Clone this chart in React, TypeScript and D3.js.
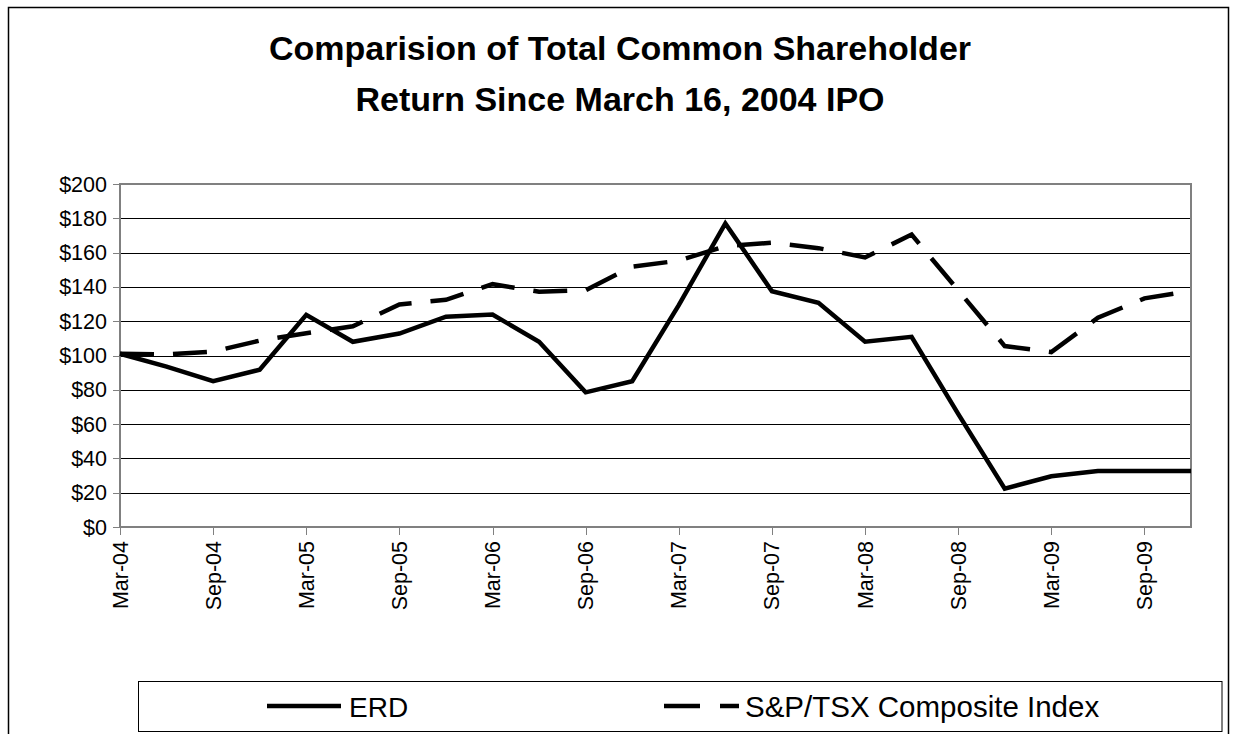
import React from "react";
import * as d3 from "d3";

const quarters = [
  "Mar-04", "Jun-04", "Sep-04", "Dec-04",
  "Mar-05", "Jun-05", "Sep-05", "Dec-05",
  "Mar-06", "Jun-06", "Sep-06", "Dec-06",
  "Mar-07", "Jun-07", "Sep-07", "Dec-07",
  "Mar-08", "Jun-08", "Sep-08", "Dec-08",
  "Mar-09", "Jun-09", "Sep-09", "Dec-09",
];

const erdValues = [
  101, 93.5, 85, 91.7,
  123.7, 108, 112.8, 122.6,
  123.9, 108, 78.5, 85,
  129.4, 177, 137.5, 130.7,
  108, 110.9, 66, 22.4,
  29.6, 32.7, 32.7, 32.7,
];

const tsxValues = [
  101, 100.6, 102.3, 108.7,
  113, 117, 129.8, 132.5,
  141.6, 137.2, 138.1, 151.8,
  155.3, 163.8, 165.8, 162.6,
  157.2, 170.5, 138, 105.5,
  102, 122, 133.3, 137.7,
];

const yTicks = [0, 20, 40, 60, 80, 100, 120, 140, 160, 180, 200];

const titleLines = [
  "Comparision of Total Common Shareholder",
  "Return Since March 16, 2004 IPO",
];

const seriesNames = ["ERD", "S&P/TSX Composite Index"];

const FONT = "'Liberation Sans', Arial, Helvetica, sans-serif";

export default function App() {
  const W = 1235;
  const H = 734;
  const plot = { left: 120, right: 1191, top: 184, bottom: 527 };

  const x = d3
    .scaleLinear()
    .domain([0, quarters.length - 1])
    .range([plot.left, plot.right]);
  const y = d3.scaleLinear().domain([0, 200]).range([plot.bottom, plot.top]);

  const line = d3
    .line<number>()
    .x((_, i) => x(i))
    .y((d) => y(d));

  const dash = "34 19";
  const lw = 4.5;

  return (
    <svg
      width={W}
      height={H}
      style={{ position: "absolute", left: 0, top: 0, background: "#fff" }}
      fontFamily={FONT}
    >
      <rect x={0} y={0} width={W} height={H} fill="#fff" />
      {/* outer chart border */}
      <rect
        x={8.5}
        y={7.5}
        width={1220}
        height={760}
        fill="none"
        stroke="#000"
        strokeWidth={1.5}
      />
      {/* title */}
      {titleLines.map((t, i) => (
        <text
          key={t}
          x={620}
          y={60 + i * 51}
          textAnchor="middle"
          fontWeight="bold"
          fontSize={34}
          fill="#000"
        >
          {t}
        </text>
      ))}
      {/* gridlines */}
      {yTicks.map((v) => (
        <line
          key={"g" + v}
          x1={plot.left}
          x2={plot.right}
          y1={Math.round(y(v)) + 0.5}
          y2={Math.round(y(v)) + 0.5}
          stroke="#000"
          strokeWidth={1}
        />
      ))}
      {/* plot border */}
      <rect
        x={plot.left}
        y={plot.top}
        width={plot.right - plot.left}
        height={plot.bottom - plot.top}
        fill="none"
        stroke="#808080"
        strokeWidth={2}
      />
      {/* y axis */}
      <line x1={plot.left} x2={plot.left} y1={plot.top} y2={plot.bottom} stroke="#808080" strokeWidth={2} />
      {yTicks.map((v) => (
        <g key={"yt" + v}>
          <line
            x1={plot.left - 7}
            x2={plot.left}
            y1={Math.round(y(v)) + 0.5}
            y2={Math.round(y(v)) + 0.5}
            stroke="#808080"
            strokeWidth={1}
          />
          <text
            x={107}
            y={y(v)}
            dy="0.35em"
            textAnchor="end"
            fontSize={21.5}
            fill="#000"
          >
            {"$" + v}
          </text>
        </g>
      ))}
      {/* x axis */}
      <line x1={plot.left} x2={plot.right} y1={plot.bottom} y2={plot.bottom} stroke="#808080" strokeWidth={2} />
      {quarters.map((q, i) =>
        i % 2 === 0 ? (
          <g key={"xt" + q}>
            <line
              x1={Math.round(x(i)) + 0.5}
              x2={Math.round(x(i)) + 0.5}
              y1={plot.bottom}
              y2={plot.bottom + 8}
              stroke="#808080"
              strokeWidth={1}
            />
            <text
              transform={`translate(${x(i)},${541}) rotate(-90)`}
              dy="0.35em"
              textAnchor="end"
              fontSize={21.5}
              fill="#000"
            >
              {q}
            </text>
          </g>
        ) : null
      )}
      {/* series */}
      <path
        d={line(tsxValues) || ""}
        fill="none"
        stroke="#000"
        strokeWidth={lw}
        strokeDasharray={dash}
      />
      <path d={line(erdValues) || ""} fill="none" stroke="#000" strokeWidth={lw} />
      {/* legend */}
      <rect
        x={138.5}
        y={681.5}
        width={1083.5}
        height={50}
        fill="#fff"
        stroke="#000"
        strokeWidth={1}
      />
      <line x1={267} x2={341} y1={706} y2={706} stroke="#000" strokeWidth={lw} />
      <text x={349} y={717} fontSize={28} fill="#000">
        {seriesNames[0]}
      </text>
      <line
        x1={664}
        x2={739}
        y1={706}
        y2={706}
        stroke="#000"
        strokeWidth={lw}
        strokeDasharray="36 20"
      />
      <text x={745} y={717} fontSize={29.5} fill="#000">
        {seriesNames[1]}
      </text>
    </svg>
  );
}
